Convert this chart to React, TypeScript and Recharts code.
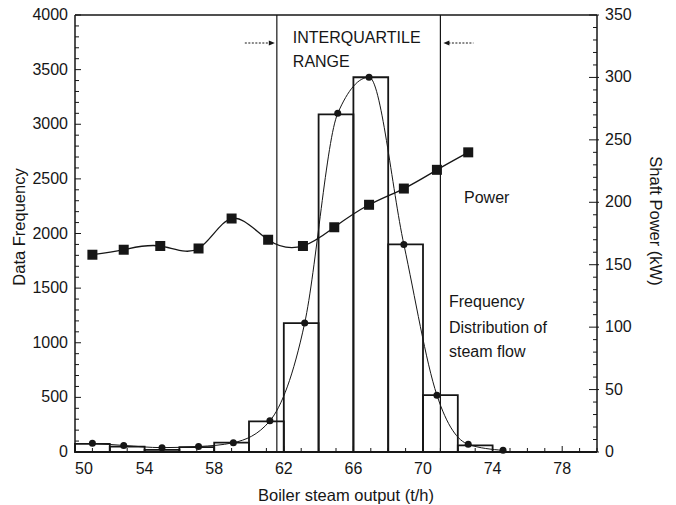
import { ComposedChart, Line, XAxis, YAxis, ReferenceLine, ReferenceArea } from "recharts";

const INK = "#161616";
const FONT = "'Liberation Sans', Arial, Helvetica, sans-serif";

// Histogram of boiler steam output, 2 t/h bins (lower edge of each bin)
const binLow = [50, 52, 54, 56, 58, 60, 62, 64, 66, 68, 70, 72];
const binWidth = 2;
const binFreq = [75, 50, 20, 45, 85, 280, 1180, 3090, 3430, 1900, 520, 60];

// Smoothed frequency distribution (dots on the curve)
const freqX = [51.0, 52.8, 55.0, 57.1, 59.1, 61.2, 63.2, 65.1, 66.9, 68.9, 70.8, 72.6, 74.6];
const freqY = [80, 60, 40, 50, 85, 285, 1180, 3100, 3430, 1900, 520, 70, 15];

// Shaft power, kW (square markers, right axis)
const powerX = [51.0, 52.8, 54.9, 57.1, 59.0, 61.1, 63.1, 64.9, 66.9, 68.9, 70.8, 72.6];
const powerKw = [158, 162, 165, 163, 187, 170, 165, 180, 198, 211, 226, 240];

// Interquartile range bounds (t/h)
const iqrLow = 61.6;
const iqrHigh = 71.0;

// Tick labels
const xLabels = [50, 54, 58, 62, 66, 70, 74, 78];
const leftLabels = [0, 500, 1000, 1500, 2000, 2500, 3000, 3500, 4000];
const rightLabels = [0, 50, 100, 150, 200, 250, 300, 350];

// minor tick grids
const xTicks = Array.from({ length: 31 }, (_, i) => 50 + i);
const leftTicks = Array.from({ length: 41 }, (_, i) => i * 100);
const rightTicks = Array.from({ length: 36 }, (_, i) => i * 10);

const freqCurve = freqX.map((x, i) => ({ x, f: freqY[i] }));
const powerCurve = powerX.map((x, i) => ({ x, kw: powerKw[i] }));

const txt = { fontFamily: FONT, fontSize: 16, fill: INK };

const BottomTick = ({ x, y, payload }: any) => {
  const v = payload.value;
  const major = xLabels.includes(v);
  return (
    <g>
      <line x1={x} x2={x} y1={y} y2={y - (major ? 6 : 4)} stroke={INK} strokeWidth={1} />
      {major && (
        <text x={x + (v === 50 ? 9 : 0)} y={y + 22} textAnchor="middle" {...txt}>
          {v}
        </text>
      )}
    </g>
  );
};

const LeftTick = ({ x, y, payload }: any) => {
  const v = payload.value;
  const major = leftLabels.includes(v);
  return (
    <g>
      <line x1={x} x2={x + (major ? 6 : 4)} y1={y} y2={y} stroke={INK} strokeWidth={1} />
      {major && (
        <text x={x - 7} y={y + 5} textAnchor="end" {...txt}>
          {v}
        </text>
      )}
    </g>
  );
};

const RightTick = ({ x, y, payload }: any) => {
  const v = payload.value;
  const major = rightLabels.includes(v);
  return (
    <g>
      <line x1={x - (major ? 8 : 4)} x2={major ? x + 2 : x} y1={y} y2={y} stroke={INK} strokeWidth={1} />
      {major && (
        <text x={x + 8} y={y + 5} textAnchor="start" {...txt}>
          {v}
        </text>
      )}
    </g>
  );
};

const SquareDot = ({ cx, cy, index }: any) => (
  <rect key={`sq-${index}`} x={cx - 5} y={cy - 5} width={10} height={10} fill={INK} />
);

// arrows + caption hung off the interquartile lines
const IqrLowLabel = ({ viewBox }: any) => {
  const { x, y } = viewBox;
  return (
    <g>
      <line x1={x - 32} x2={x - 7} y1={y + 28} y2={y + 28} stroke={INK} strokeWidth={1} strokeDasharray="2 1.5" />
      <path d={`M${x - 8} ${y + 25.5} L${x - 2} ${y + 28} L${x - 8} ${y + 30.5} Z`} fill={INK} />
      <text x={x + 16} y={y + 28} {...txt}>INTERQUARTILE</text>
      <text x={x + 16} y={y + 52} {...txt}>RANGE</text>
    </g>
  );
};

const IqrHighLabel = ({ viewBox }: any) => {
  const { x, y } = viewBox;
  return (
    <g>
      <line x1={x + 8} x2={x + 33} y1={y + 28} y2={y + 28} stroke={INK} strokeWidth={1} strokeDasharray="2 1.5" />
      <path d={`M${x + 9} ${y + 25.5} L${x + 3} ${y + 28} L${x + 9} ${y + 30.5} Z`} fill={INK} />
    </g>
  );
};

export default function App() {
  return (
    <div style={{ position: "absolute", left: 0, top: 0, width: 676, height: 505, background: "#fff" }}>
      <ComposedChart
        width={676}
        height={505}
        data={freqCurve}
        margin={{ top: 15, right: 0, bottom: 0, left: 0 }}
      >
        <XAxis
          dataKey="x"
          type="number"
          domain={[50, 80]}
          allowDataOverflow
          ticks={xTicks}
          interval={0}
          tickSize={0}
          tickMargin={0}
          tickLine={false}
          tick={(p: any) => <BottomTick {...p} />}
          axisLine={{ stroke: INK, strokeWidth: 1.8 }}
          height={53}
        />
        <YAxis
          yAxisId="left"
          domain={[0, 4000]}
          ticks={leftTicks}
          interval={0}
          tickSize={0}
          tickMargin={0}
          tickLine={false}
          tick={(p: any) => <LeftTick {...p} />}
          axisLine={{ stroke: INK, strokeWidth: 1.5 }}
          width={75}
        />
        <YAxis
          yAxisId="right"
          orientation="right"
          domain={[0, 350]}
          ticks={rightTicks}
          interval={0}
          tickSize={0}
          tickMargin={0}
          tickLine={false}
          tick={(p: any) => <RightTick {...p} />}
          axisLine={{ stroke: INK, strokeWidth: 1.5 }}
          width={79}
        />
        {binLow.map((lo, i) => (
          <ReferenceArea
            key={`bin-${lo}`}
            yAxisId="left"
            x1={lo}
            x2={lo + binWidth}
            y1={0}
            y2={binFreq[i]}
            fill="none"
            stroke={INK}
            strokeWidth={1.8}
            ifOverflow="visible"
          />
        ))}
        <ReferenceLine yAxisId="left" y={4000} stroke={INK} strokeWidth={1.5} />
        <ReferenceLine yAxisId="left" x={iqrLow} stroke={INK} strokeWidth={1.2} label={(p: any) => <IqrLowLabel {...p} />} />
        <ReferenceLine yAxisId="left" x={iqrHigh} stroke={INK} strokeWidth={1.2} label={(p: any) => <IqrHighLabel {...p} />} />
        <Line
          yAxisId="left"
          dataKey="f"
          type="monotone"
          stroke={INK}
          strokeWidth={1}
          dot={{ r: 3.5, fill: INK, stroke: INK, strokeWidth: 0 }}
          activeDot={false}
          isAnimationActive={false}
        />
        <Line
          yAxisId="right"
          data={powerCurve}
          dataKey="kw"
          type="natural"
          stroke={INK}
          strokeWidth={1.3}
          dot={(p: any) => <SquareDot {...p} />}
          activeDot={false}
          isAnimationActive={false}
        />
      </ComposedChart>
      <svg width={676} height={505} style={{ position: "absolute", left: 0, top: 0, pointerEvents: "none" }}>
        <text x={19} y={227} transform="rotate(-90 19 227)" textAnchor="middle" dominantBaseline="central" fontFamily={FONT} fontSize={16.5} fill={INK}>
          Data Frequency
        </text>
        <text x={656} y={221} transform="rotate(90 656 221)" textAnchor="middle" dominantBaseline="central" fontFamily={FONT} fontSize={16.5} fill={INK}>
          Shaft Power (kW)
        </text>
        <text x={346} y={501} textAnchor="middle" fontFamily={FONT} fontSize={16.5} fill={INK}>
          Boiler steam output (t/h)
        </text>
        <text x={464} y={203} {...txt}>Power</text>
        <text x={449} y={307} {...txt}>Frequency</text>
        <text x={449} y={333} {...txt}>Distribution of</text>
        <text x={449} y={357} {...txt}>steam flow</text>
      </svg>
    </div>
  );
}
